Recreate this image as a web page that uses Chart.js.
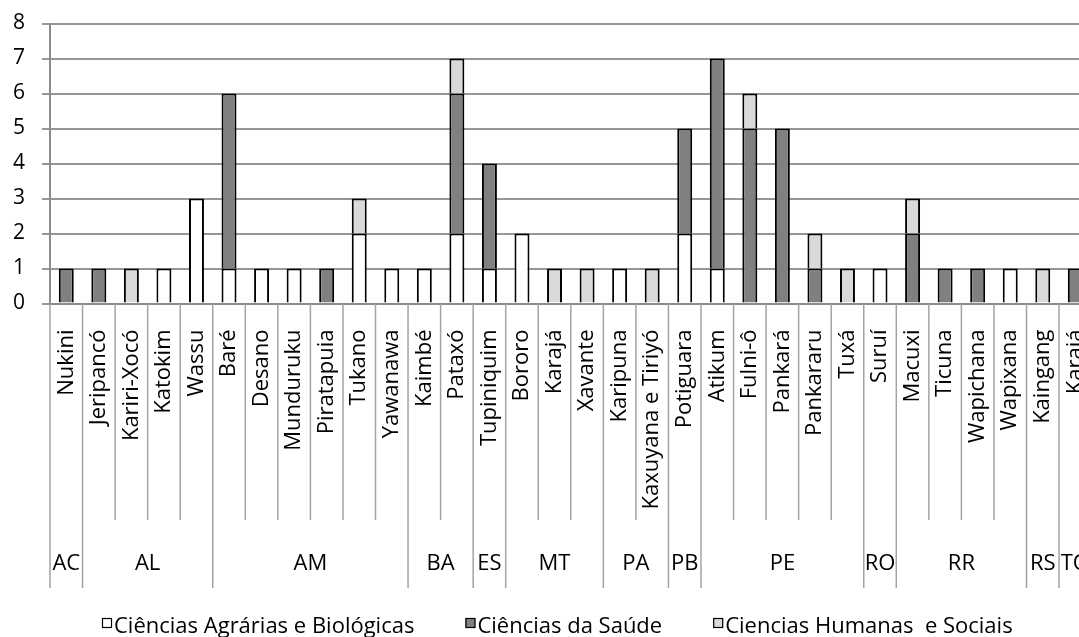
<!DOCTYPE html>
<html lang="pt">
<head>
<meta charset="utf-8">
<script src="https://cdn.jsdelivr.net/npm/chart.js@4"></script>
<style>
  html, body { margin: 0; padding: 0; background: #fff; }
  #wrap { position: relative; width: 1079px; height: 637px; overflow: hidden; }
  #wrap canvas { position: absolute; left: 0; top: 0; display: block; }
</style>
</head>
<body>
<div id="wrap"><canvas id="chart" width="1110" height="637"></canvas></div>
<script>
// Ethnic groups (one bar each) and the state each group belongs to
const categories = [
  'Nukini',
  'Jeripancó', 'Kariri-Xocó', 'Katokim', 'Wassu',
  'Baré', 'Desano', 'Munduruku', 'Piratapuia', 'Tukano', 'Yawanawa',
  'Kaimbé', 'Pataxó',
  'Tupiniquim',
  'Bororo', 'Karajá', 'Xavante',
  'Karipuna', 'Kaxuyana e Tiriyó',
  'Potiguara',
  'Atikum', 'Fulni-ô', 'Pankará', 'Pankararu', 'Tuxá',
  'Suruí',
  'Macuxi', 'Ticuna', 'Wapichana', 'Wapixana',
  'Kaingang',
  'Karajá'
];
const states = [
  'AC',
  'AL', 'AL', 'AL', 'AL',
  'AM', 'AM', 'AM', 'AM', 'AM', 'AM',
  'BA', 'BA',
  'ES',
  'MT', 'MT', 'MT',
  'PA', 'PA',
  'PB',
  'PE', 'PE', 'PE', 'PE', 'PE',
  'RO',
  'RR', 'RR', 'RR', 'RR',
  'RS',
  'TO'
];

// Counts per knowledge area
const agrarias = [0, 0, 0, 1, 3, 1, 1, 1, 0, 2, 1, 1, 2, 1, 2, 0, 0, 1, 0, 2, 1, 0, 0, 0, 0, 1, 0, 0, 0, 1, 0, 0];
const saude    = [1, 1, 0, 0, 0, 5, 0, 0, 1, 0, 0, 0, 4, 3, 0, 0, 0, 0, 0, 3, 6, 5, 5, 1, 0, 0, 2, 1, 1, 0, 0, 1];
const humanas  = [0, 0, 1, 0, 0, 0, 0, 0, 0, 1, 0, 0, 1, 0, 0, 1, 1, 0, 1, 0, 0, 1, 0, 1, 1, 0, 1, 0, 0, 0, 1, 0];

const seriesNames = ['Ciências Agrárias e Biológicas', 'Ciências da Saúde', 'Ciencias Humanas  e Sociais'];
const yMin = 0, yMax = 8, yStep = 1;

const FONT = '"Open Sans", "DejaVu Sans", sans-serif';
const GRID = '#969696';
const SEP = '#a3a3a3';

// Row layout of the two-level category axis below the plot
const INNER_SEP_BOTTOM = 520;   // separators between groups of the same state
const GROUP_SEP_BOTTOM = 588;   // separators between states
const GROUP_BASELINE = 569.5;
const LEGEND_X = 102, LEGEND_BASELINE = 633, LEGEND_GAP = 51;

const decor = {
  id: 'decor',
  afterDraw(chart) {
    const ctx = chart.ctx;
    const xs = chart.scales.x;
    const area = chart.chartArea;
    const n = categories.length;
    const w = (xs.right - xs.left) / n;
    const edge = i => (i < n ? xs.getPixelForValue(i) - w / 2 : xs.getPixelForValue(n - 1) + w / 2);

    ctx.save();
    // category / state separators
    ctx.strokeStyle = SEP;
    ctx.lineWidth = 1.5;
    for (let i = 0; i <= n; i++) {
      const isGroup = i === 0 || i === n || states[i] !== states[i - 1];
      const x = edge(i);
      ctx.beginPath();
      ctx.moveTo(x, area.bottom);
      ctx.lineTo(x, isGroup ? GROUP_SEP_BOTTOM : INNER_SEP_BOTTOM);
      ctx.stroke();
    }

    // state labels centred under their runs of bars
    ctx.fillStyle = '#000';
    ctx.font = '22px ' + FONT;
    ctx.textAlign = 'center';
    ctx.textBaseline = 'alphabetic';
    let start = 0;
    for (let i = 1; i <= n; i++) {
      if (i === n || states[i] !== states[start]) {
        ctx.fillText(states[start], (edge(start) + edge(i)) / 2, GROUP_BASELINE);
        start = i;
      }
    }

    // legend
    ctx.textAlign = 'left';
    let x = LEGEND_X;
    chart.data.datasets.forEach(ds => {
      ctx.fillStyle = ds.backgroundColor;
      ctx.fillRect(x, LEGEND_BASELINE - 15, 10, 10);
      ctx.strokeStyle = '#000';
      ctx.lineWidth = 1.2;
      ctx.strokeRect(x + 0.5, LEGEND_BASELINE - 14.5, 9, 9);
      ctx.fillStyle = '#000';
      ctx.fillText(ds.label, x + 12, LEGEND_BASELINE);
      x += 12 + ctx.measureText(ds.label).width + LEGEND_GAP;
    });
    ctx.restore();
  }
};

const barStyle = { borderColor: '#000', borderWidth: 2, barPercentage: 0.46, categoryPercentage: 1.0 };

new Chart(document.getElementById('chart'), {
  type: 'bar',
  data: {
    labels: categories,
    datasets: [
      Object.assign({ label: seriesNames[0], data: agrarias, backgroundColor: '#ffffff' }, barStyle),
      Object.assign({ label: seriesNames[1], data: saude, backgroundColor: '#808080' }, barStyle),
      Object.assign({ label: seriesNames[2], data: humanas, backgroundColor: '#d9d9d9' }, barStyle)
    ]
  },
  options: {
    responsive: false,
    animation: false,
    devicePixelRatio: 1,
    layout: { padding: { top: 23.5, left: 13, right: 18.4, bottom: 0 } },
    plugins: { legend: { display: false }, tooltip: { enabled: false } },
    scales: {
      x: {
        stacked: true,
        afterFit(s) { s.height = 637 - 303.5; },
        grid: { display: false, drawTicks: true, tickLength: 26 },
        border: { display: true, color: '#8c8c8c', width: 2 },
        ticks: {
          autoSkip: false, minRotation: 90, maxRotation: 90, padding: 0,
          color: '#000', font: { family: FONT, size: 22 }
        }
      },
      y: {
        stacked: true,
        min: yMin, max: yMax,
        afterFit(s) { s.width = 37; },
        grid: { color: GRID, lineWidth: 2, tickLength: 8, tickColor: GRID },
        border: { display: true, color: '#8c8c8c', width: 2 },
        ticks: {
          stepSize: yStep, padding: 0, crossAlign: 'far', color: '#000',
          font: { family: FONT, size: 21 }
        }
      }
    }
  },
  plugins: [decor]
});
</script>
</body>
</html>
